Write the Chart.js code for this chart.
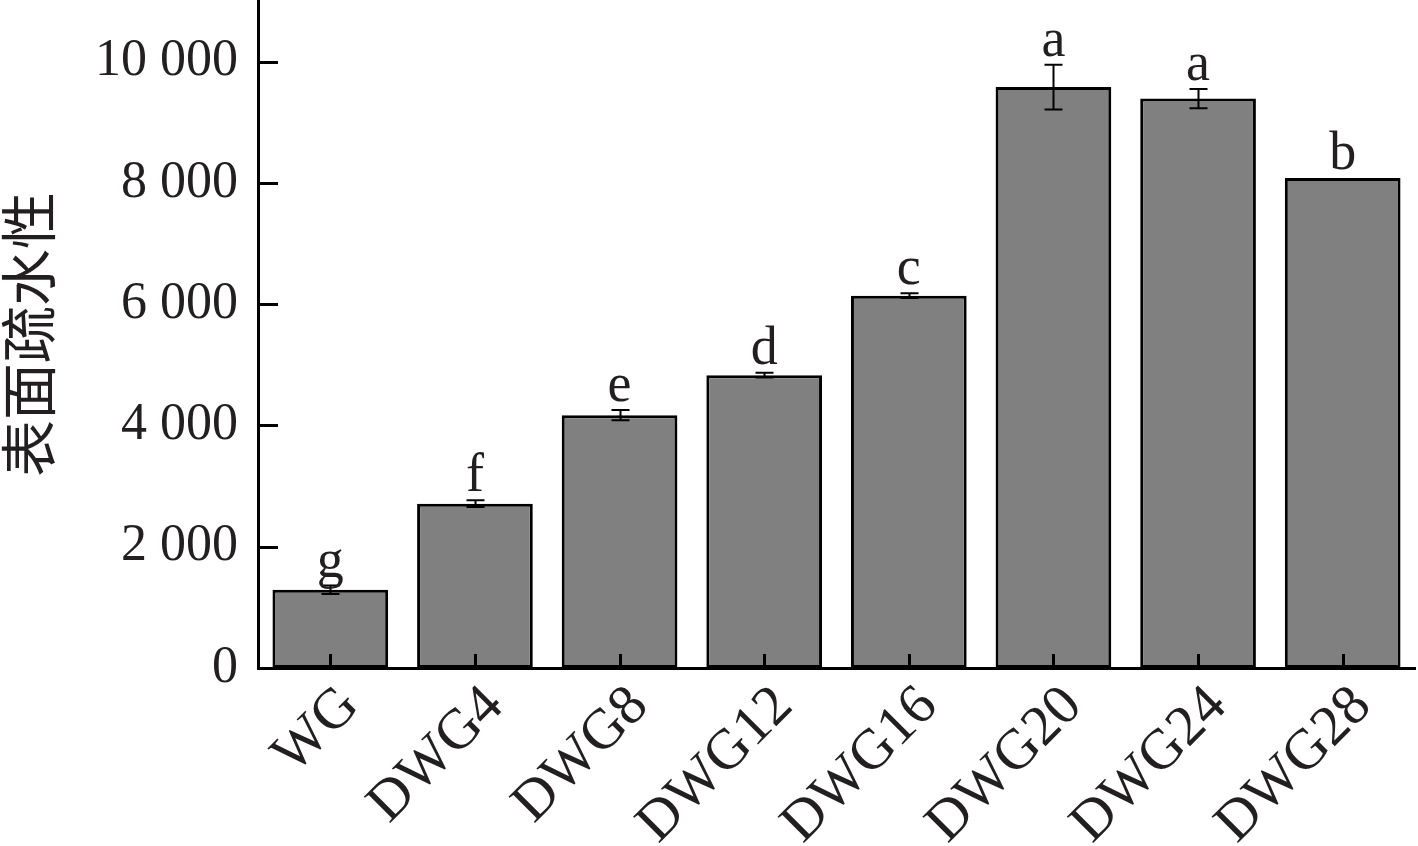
<!DOCTYPE html>
<html>
<head>
<meta charset="utf-8">
<title>表面疏水性</title>
<script src="https://cdn.jsdelivr.net/npm/chart.js@4.4.1/dist/chart.umd.min.js"></script>
<style>
  html, body { margin: 0; padding: 0; background: #fff; }
  canvas { display: block; }
</style>
</head>
<body>
<canvas id="chart" width="1418" height="846"></canvas>
<script>
// --- Data ---
var CATEGORIES = ['WG', 'DWG4', 'DWG8', 'DWG12', 'DWG16', 'DWG20', 'DWG24', 'DWG28'];
var VALUES = [1290, 2710, 4170, 4830, 6140, 9580, 9390, 8080];
var ERRORS = [70, 55, 85, 40, 40, 370, 160, 0];
var LETTERS = ['g', 'f', 'e', 'd', 'c', 'a', 'a', 'b'];
var Y_TICKS = [0, 2000, 4000, 6000, 8000, 10000];
var Y_MAX = 11000;
var Y_TITLE = '表面疏水性';

var TEXT = '#231f20';
var SERIF = '"Liberation Serif", "Times New Roman", serif';

function fmtThousands(v) {
  return String(v).replace(/\B(?=(\d{3})+(?!\d))/g, ' ');
}

// no automatic padding from label overflow
function noPad(scale) {
  scale.paddingTop = 0;
  scale.paddingBottom = 0;
  scale.paddingLeft = 0;
  scale.paddingRight = 0;
}

// error bars, significance letters and inward tick marks
var overlayPlugin = {
  id: 'overlay',
  afterDatasetsDraw: function (chart) {
    var ctx = chart.ctx;
    var x = chart.scales.x;
    var y = chart.scales.y;
    var area = chart.chartArea;
    var meta = chart.getDatasetMeta(0);

    ctx.save();
    ctx.strokeStyle = '#000';

    // inward ticks
    ctx.lineWidth = 3;
    Y_TICKS.forEach(function (v) {
      if (v === 0) return;
      var py = Math.round(y.getPixelForValue(v)) + 0.5;
      ctx.beginPath();
      ctx.moveTo(area.left, py);
      ctx.lineTo(area.left + 20, py);
      ctx.stroke();
    });
    CATEGORIES.forEach(function (c, i) {
      var px = Math.round(x.getPixelForValue(i)) + 0.5;
      ctx.beginPath();
      ctx.moveTo(px, area.bottom);
      ctx.lineTo(px, area.bottom - 14);
      ctx.stroke();
    });

    // error bars
    ctx.lineWidth = 2;
    VALUES.forEach(function (v, i) {
      var err = ERRORS[i];
      if (!err) return;
      var px = Math.round(meta.data[i].x) + 0.5;
      var top = y.getPixelForValue(v + err);
      var bot = y.getPixelForValue(v - err);
      ctx.beginPath();
      ctx.moveTo(px, top);
      ctx.lineTo(px, bot);
      ctx.moveTo(px - 9, top);
      ctx.lineTo(px + 9, top);
      ctx.moveTo(px - 9, bot);
      ctx.lineTo(px + 9, bot);
      ctx.stroke();
    });

    // letters
    ctx.fillStyle = TEXT;
    ctx.font = '54px ' + SERIF;
    ctx.textAlign = 'center';
    ctx.textBaseline = 'alphabetic';
    VALUES.forEach(function (v, i) {
      var px = meta.data[i].x;
      var py = y.getPixelForValue(v + ERRORS[i]) - 9;
      ctx.fillText(LETTERS[i], px, py);
    });
    ctx.restore();
  }
};

new Chart(document.getElementById('chart'), {
  type: 'bar',
  data: {
    labels: CATEGORIES,
    datasets: [{
      data: VALUES,
      backgroundColor: '#808080',
      borderColor: '#000',
      borderWidth: 3,
      borderSkipped: false,
      barPercentage: 0.8,
      categoryPercentage: 1
    }]
  },
  options: {
    responsive: false,
    animation: false,
    devicePixelRatio: 1,
    layout: { padding: { top: 1, right: 3, left: 0, bottom: 0 } },
    plugins: {
      legend: { display: false },
      tooltip: { enabled: false }
    },
    scales: {
      x: {
        grid: { display: false, drawTicks: false },
        border: { display: true, color: '#000', width: 3 },
        ticks: {
          autoSkip: false,
          minRotation: 45,
          maxRotation: 45,
          padding: 5,
          labelOffset: 20,
          color: TEXT,
          font: { family: SERIF, size: 57 }
        },
        afterFit: function (scale) {
          noPad(scale);
          scale.height = 846 - 668;
        }
      },
      y: {
        min: 0,
        max: Y_MAX,
        grid: { display: false, drawTicks: false },
        border: { display: true, color: '#000', width: 3 },
        afterBuildTicks: function (scale) {
          scale.ticks = Y_TICKS.map(function (v) { return { value: v }; });
        },
        ticks: {
          padding: 20,
          color: TEXT,
          font: { family: SERIF, size: 52 },
          callback: function (v) { return fmtThousands(v); }
        },
        title: {
          display: true,
          text: Y_TITLE,
          color: TEXT,
          padding: { top: 0, bottom: 0 },
          font: { family: '"Noto Sans CJK SC", sans-serif', size: 57, lineHeight: 1 }
        },
        afterFit: function (scale) {
          noPad(scale);
          scale.width = 258;
        }
      }
    }
  },
  plugins: [overlayPlugin]
});
</script>
</body>
</html>
